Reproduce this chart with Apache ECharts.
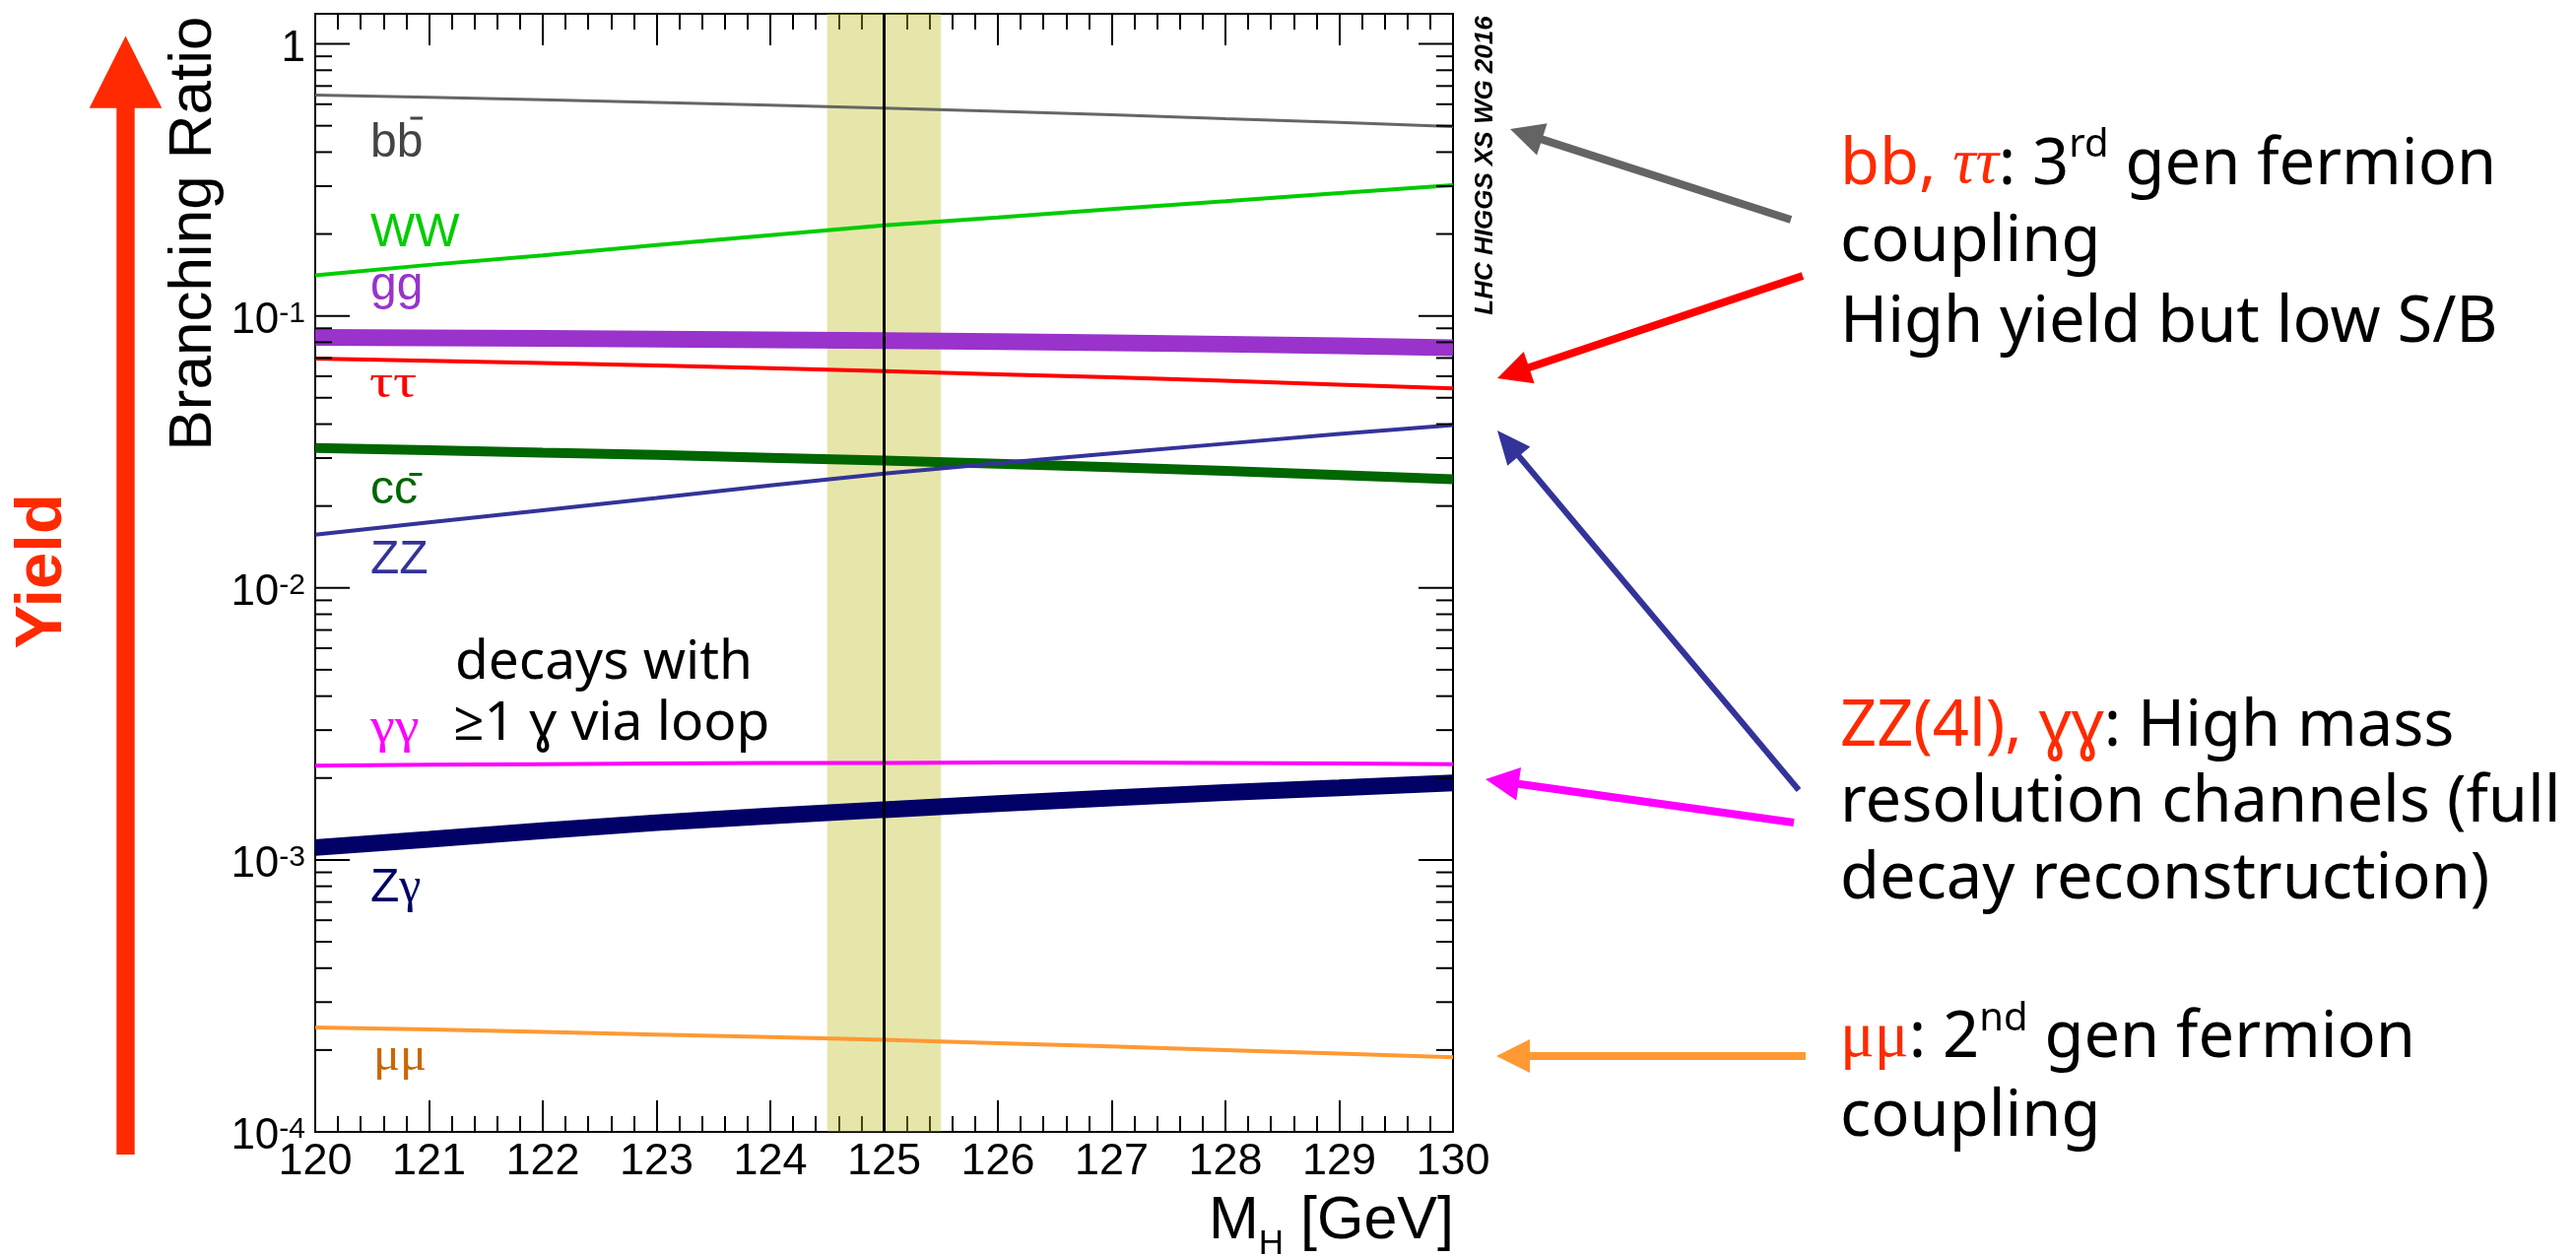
<!DOCTYPE html>
<html>
<head>
<meta charset="utf-8">
<script src="https://cdn.jsdelivr.net/npm/echarts@6/dist/echarts.min.js"></script>
<style>
  html, body { margin: 0; padding: 0; background: #ffffff; }
  #chart { width: 2615px; height: 1276px; }
</style>
</head>
<body>
<div id="chart"></div>
<script>
// Higgs boson mass points (GeV)
const masses = [120, 121, 122, 123, 124, 125, 126, 127, 128, 129, 130];

// Branching ratios per decay channel at each mass point
const brBB     = [0.648, 0.636, 0.623, 0.609, 0.595, 0.581, 0.565, 0.549, 0.531, 0.514, 0.496];
const brWW     = [0.141, 0.154, 0.167, 0.182, 0.198, 0.215, 0.230, 0.247, 0.264, 0.283, 0.302];
const brGG     = [0.0834, 0.0830, 0.0826, 0.0821, 0.0816, 0.0811, 0.0804, 0.0796, 0.0787, 0.0776, 0.0763];
const brTauTau = [0.0697, 0.0684, 0.0671, 0.0657, 0.0642, 0.0626, 0.0610, 0.0594, 0.0577, 0.0559, 0.0541];
const brCC     = [0.0327, 0.0321, 0.0314, 0.0308, 0.0301, 0.0294, 0.0286, 0.0278, 0.0269, 0.0260, 0.0251];
const brZZ     = [0.0157, 0.0174, 0.0193, 0.0214, 0.0238, 0.0263, 0.0287, 0.0312, 0.0339, 0.0368, 0.0397];
const brGamGam = [0.00222, 0.00224, 0.00225, 0.00226, 0.00227, 0.00227, 0.00228, 0.00228, 0.00227, 0.00226, 0.00225];
const brZGam   = [0.00111, 0.00119, 0.00128, 0.00137, 0.00145, 0.00153, 0.00161, 0.00169, 0.00177, 0.00184, 0.00192];
const brMuMu   = [0.000242, 0.000238, 0.000233, 0.000228, 0.000223, 0.000218, 0.000212, 0.000206, 0.000200, 0.000194, 0.000188];

// Measured Higgs mass and the band drawn around it
const higgsMass = 125;
const massBand = [124.5, 125.5];

// Axis ranges and log-axis tick values
const massRange = [120, 130];
const brRange = [1e-4, 1.29];
const decadeTicks = [1e-4, 1e-3, 1e-2, 1e-1, 1];
const minorTickMultipliers = [2, 3, 4, 5, 6, 7, 8, 9];

const SANS = '"Liberation Sans", Arial, Helvetica, sans-serif';
const SERIF = '"Liberation Serif", "Times New Roman", serif';
const SLIDE = '"Noto Sans", "Open Sans", sans-serif';
const ACCENT = '#ff2a00';

const channels = [
  { name: 'bb',     values: brBB,     color: '#666666', width: 3 },
  { name: 'WW',     values: brWW,     color: '#00cc00', width: 4 },
  { name: 'gg',     values: brGG,     color: '#9933cc', width: 17 },
  { name: 'tautau', values: brTauTau, color: '#ff0000', width: 4 },
  { name: 'cc',     values: brCC,     color: '#006600', width: 10 },
  { name: 'ZZ',     values: brZZ,     color: '#333399', width: 4 },
  { name: 'gamgam', values: brGamGam, color: '#ff00ff', width: 4 },
  { name: 'Zgam',   values: brZGam,   color: '#000066', width: 17 },
  { name: 'mumu',   values: brMuMu,   color: '#ff9933', width: 4 }
];

// Tick marks for the log axis, mirrored on both sides of the frame
const yTickData = [];
decadeTicks.forEach(function (d) {
  massRange.forEach(function (m) { yTickData.push([m, d, 1]); });
  minorTickMultipliers.forEach(function (k) {
    const v = k * d;
    if (v <= brRange[1]) massRange.forEach(function (m) { yTickData.push([m, v, 0]); });
  });
});

function arrow(tail, tip, color, shaftWidth, headLen, headHalf) {
  const dx = tip[0] - tail[0], dy = tip[1] - tail[1];
  const len = Math.hypot(dx, dy);
  const ux = dx / len, uy = dy / len;
  const bx = tip[0] - ux * headLen, by = tip[1] - uy * headLen;
  const nx = -uy, ny = ux;
  return [
    { type: 'line', silent: true, z: 50,
      shape: { x1: tail[0], y1: tail[1], x2: bx + ux * 2, y2: by + uy * 2 },
      style: { stroke: color, lineWidth: shaftWidth, lineCap: 'butt' } },
    { type: 'polygon', silent: true, z: 50,
      shape: { points: [[tip[0], tip[1]], [bx + nx * headHalf, by + ny * headHalf], [bx - nx * headHalf, by - ny * headHalf]] },
      style: { fill: color } }
  ];
}

function label(x, y, text, fill, family, size, extra, scaleX) {
  const st = Object.assign({
    text: text, fill: fill, fontFamily: family, fontSize: size,
    align: 'left', verticalAlign: 'middle', textAlign: 'left', textVerticalAlign: 'middle'
  }, extra || {});
  return { type: 'text', x: x, y: y, scaleX: scaleX || 1, silent: true, z: 60, style: st };
}

const supStyle = { fontFamily: SLIDE, fontSize: 40, lineHeight: 54, verticalAlign: 'top', fill: '#000' };
function slideLine(y, text) {
  return label(1868, y, text, '#000', SLIDE, 65, {
    lineHeight: 80,
    rich: {
      r: { fill: ACCENT, fontFamily: SLIDE, fontSize: 65, lineHeight: 80 },
      rg: { fill: ACCENT, fontFamily: SERIF, fontStyle: 'italic', fontSize: 65, lineHeight: 80 },
      rs: { fill: ACCENT, fontFamily: SERIF, fontSize: 65, lineHeight: 80 },
      sup: supStyle
    }
  });
}

const graphics = [].concat(
  // Yield arrow and caption
  arrow([127.5, 1172], [127.5, 36.6], ACCENT, 18.4, 73.2, 36.8),
  [
    { type: 'text', x: 44, y: 580, rotation: Math.PI / 2, silent: true,
      style: { text: 'Yield', fill: ACCENT, fontFamily: SANS, fontWeight: 'bold', fontSize: 67,
               align: 'center', verticalAlign: 'middle', textAlign: 'center', textVerticalAlign: 'middle' } },
    { type: 'text', x: 197, y: 237, rotation: Math.PI / 2, silent: true,
      style: { text: 'Branching Ratio', fill: '#000', fontFamily: SANS, fontSize: 62,
               align: 'center', verticalAlign: 'middle', textAlign: 'center', textVerticalAlign: 'middle' } },
    { type: 'text', x: 1508, y: 168, rotation: Math.PI / 2, silent: true,
      style: { text: 'LHC HIGGS XS WG 2016', fill: '#000', fontFamily: SANS, fontWeight: 'bold', fontStyle: 'italic', fontSize: 26,
               align: 'center', verticalAlign: 'middle', textAlign: 'center', textVerticalAlign: 'middle' } },
    { type: 'text', x: 1476, y: 1240, silent: true,
      style: { text: 'M{sub|H} [GeV]', fill: '#000', fontFamily: SANS, fontSize: 61, lineHeight: 61,
               align: 'right', verticalAlign: 'middle', textAlign: 'right', textVerticalAlign: 'middle',
               rich: { sub: { fontFamily: SANS, fontSize: 35, lineHeight: 35, verticalAlign: 'top', padding: [36, 0, 0, 0], fill: '#000' } } } },

    // channel names inside the frame
    label(376, 145.4, 'bb', '#444444', SANS, 48),
    { type: 'rect', silent: true, z: 60, shape: { x: 416.5, y: 118.5, width: 12.5, height: 3 }, style: { fill: '#444444' } },
    label(376, 236.4, 'WW', '#00cc00', SANS, 48),
    label(376, 291, 'gg', '#9933cc', SANS, 48),
    label(375, 390.8, 'ττ', '#ff0000', SERIF, 48, null, 1.25),
    label(376, 497.4, 'cc', '#006600', SANS, 48),
    { type: 'rect', silent: true, z: 60, shape: { x: 415.5, y: 480, width: 13, height: 3 }, style: { fill: '#006600' } },
    label(376, 568.4, 'ZZ', '#333399', SANS, 48),
    label(376, 739.8, 'γγ', '#ff00ff', SERIF, 50, null, 1.12),
    label(376, 901.8, 'Z{g|γ}', '#000066', SANS, 48, { rich: { g: { fontFamily: SERIF, fontSize: 50, fill: '#000066' } } }),
    label(379, 1073.8, 'μμ', '#cc6600', SERIF, 48, null, 1.05),
    label(462, 673.2, 'decays with', '#000', SLIDE, 55),
    label(460, 735.5, '≥1 ɣ via loop', '#000', SLIDE, 55),

    // physics notes to the right of the frame
    slideLine(168.1, '{r|bb, }{rg|ττ}: 3{sup|rd} gen fermion'),
    slideLine(246.5, 'coupling'),
    slideLine(328.1, 'High yield but low S/B'),
    slideLine(738.1, '{r|ZZ(4l), ɣɣ}: High mass'),
    slideLine(815.8, 'resolution channels (full'),
    slideLine(893.1, 'decay reconstruction)'),
    slideLine(1054.8, '{rs|μμ}: 2{sup|nd} gen fermion'),
    slideLine(1134.8, 'coupling')
  ],
  arrow([1818, 223], [1533, 131], '#646464', 8, 34, 17),
  arrow([1830, 280], [1520, 384], '#ff0000', 8, 34, 17),
  arrow([1826, 802], [1520, 437], '#333399', 6, 34, 15),
  arrow([1821, 835], [1508, 791], '#ff00ff', 8, 34, 17),
  arrow([1833, 1072], [1519, 1072], '#ff9933', 8, 34, 17)
);

const tickLine = { color: '#000', width: 2 };
function massAxis(position, showLabels) {
  return {
    type: 'value', position: position, min: massRange[0], max: massRange[1], interval: 1,
    axisLine: { show: false },
    axisTick: { show: true, inside: true, length: 32, lineStyle: tickLine },
    minorTick: { show: true, splitNumber: 5, length: 16, lineStyle: tickLine },
    splitLine: { show: false }, minorSplitLine: { show: false },
    axisLabel: { show: showLabels, margin: 8, color: '#000', fontFamily: SANS, fontSize: 45, hideOverlap: false }
  };
}

const series = channels.map(function (c) {
  return {
    type: 'line', name: c.name,
    data: masses.map(function (m, i) { return [m, c.values[i]]; }),
    showSymbol: false, symbol: 'none', silent: true, z: 2,
    lineStyle: { color: c.color, width: c.width, cap: 'butt' }
  };
});

series.push({
  type: 'line', name: 'band', data: [], z: 5, silent: true,
  markArea: {
    silent: true,
    itemStyle: { color: 'rgba(187,187,27,0.37)' },
    data: [[{ xAxis: massBand[0] }, { xAxis: massBand[1] }]]
  }
});
series.push({
  type: 'line', name: 'mass', data: [], z: 6, silent: true,
  markLine: {
    silent: true, symbol: ['none', 'none'], label: { show: false },
    lineStyle: { color: '#000', width: 3, type: 'solid' },
    data: [{ xAxis: higgsMass }]
  }
});
series.push({
  type: 'custom', name: 'yticks', data: yTickData, z: 7, silent: true, clip: false,
  encode: { x: 0, y: 1 },
  renderItem: function (params, api) {
    const m = api.value(0), v = api.value(1), major = api.value(2);
    const p = api.coord([m, v]);
    const len = major ? 35 : 17;
    const dir = m === massRange[0] ? 1 : -1;
    return { type: 'line', shape: { x1: p[0], y1: p[1], x2: p[0] + dir * len, y2: p[1] },
             style: { stroke: '#000', lineWidth: 2 } };
  }
});

const chart = echarts.init(document.getElementById('chart'), null, { renderer: 'canvas' });
chart.setOption({
  animation: false,
  backgroundColor: '#ffffff',
  grid: { left: 320, top: 14, width: 1155, height: 1135, show: true, borderColor: '#000', borderWidth: 2,
          backgroundColor: 'transparent', containLabel: false, outerBoundsMode: 'none' },
  xAxis: [massAxis('bottom', true), massAxis('top', false)],
  yAxis: {
    type: 'log', logBase: 10, min: brRange[0], max: brRange[1],
    axisLine: { show: false }, axisTick: { show: false },
    splitLine: { show: false }, minorTick: { show: false }, minorSplitLine: { show: false },
    axisLabel: {
      margin: 10, color: '#000', fontFamily: SANS, fontSize: 44, lineHeight: 44, padding: [10, 0, 0, 0],
      formatter: function (v) {
        const e = Math.log10(v);
        const r = Math.round(e);
        if (Math.abs(e - r) > 1e-6) return '';
        if (r === 0) return '1';
        return '10{s|' + r + '}';
      },
      rich: { s: { fontFamily: SANS, fontSize: 30, lineHeight: 30, verticalAlign: 'top', color: '#000' } }
    }
  },
  graphic: { elements: graphics },
  series: series
});
</script>
</body>
</html>
